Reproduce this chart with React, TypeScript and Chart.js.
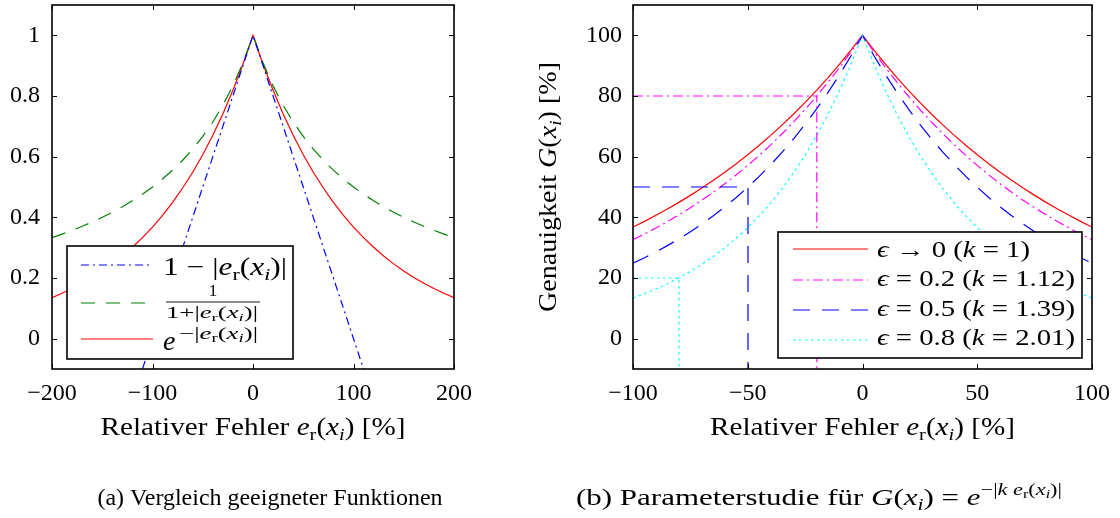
import React, { useEffect, useRef } from "react";
import { Chart, registerables } from "chart.js";

Chart.register(...registerables);

const FONT = '"Liberation Serif", "Times New Roman", serif';

// ---------- Left chart data (a) ----------
const leftX = [-200, -190, -180, -170, -160, -150, -140, -130, -120, -110, -100, -90, -80, -70, -60, -50, -40, -30, -20, -10, 0, 10, 20, 30, 40, 50, 60, 70, 80, 90, 100, 110, 120, 130, 140, 150, 160, 170, 180, 190, 200];
const leftLinear = [-1, -0.9, -0.8, -0.7, -0.6, -0.5, -0.4, -0.3, -0.2, -0.1, 0, 0.1, 0.2, 0.3, 0.4, 0.5, 0.6, 0.7, 0.8, 0.9, 1, 0.9, 0.8, 0.7, 0.6, 0.5, 0.4, 0.3, 0.2, 0.1, 0, -0.1, -0.2, -0.3, -0.4, -0.5, -0.6, -0.7, -0.8, -0.9, -1];
const leftRational = [0.3333, 0.3448, 0.3571, 0.3704, 0.3846, 0.4, 0.4167, 0.4348, 0.4545, 0.4762, 0.5, 0.5263, 0.5556, 0.5882, 0.625, 0.6667, 0.7143, 0.7692, 0.8333, 0.9091, 1, 0.9091, 0.8333, 0.7692, 0.7143, 0.6667, 0.625, 0.5882, 0.5556, 0.5263, 0.5, 0.4762, 0.4545, 0.4348, 0.4167, 0.4, 0.3846, 0.3704, 0.3571, 0.3448, 0.3333];
const leftExp = [0.1353, 0.1496, 0.1653, 0.1827, 0.2019, 0.2231, 0.2466, 0.2725, 0.3012, 0.3329, 0.3679, 0.4066, 0.4493, 0.4966, 0.5488, 0.6065, 0.6703, 0.7408, 0.8187, 0.9048, 1, 0.9048, 0.8187, 0.7408, 0.6703, 0.6065, 0.5488, 0.4966, 0.4493, 0.4066, 0.3679, 0.3329, 0.3012, 0.2725, 0.2466, 0.2231, 0.2019, 0.1827, 0.1653, 0.1496, 0.1353];
const leftXTicks = [-200, -100, 0, 100, 200];
const leftYTicks = [0, 0.2, 0.4, 0.6, 0.8, 1];

// ---------- Right chart data (b) ----------
const rightX = [-100, -95, -90, -85, -80, -75, -70, -65, -60, -55, -50, -45, -40, -35, -30, -25, -20, -15, -10, -5, 0, 5, 10, 15, 20, 25, 30, 35, 40, 45, 50, 55, 60, 65, 70, 75, 80, 85, 90, 95, 100];
const rightK100 = [36.79, 38.67, 40.66, 42.74, 44.93, 47.24, 49.66, 52.2, 54.88, 57.69, 60.65, 63.76, 67.03, 70.47, 74.08, 77.88, 81.87, 86.07, 90.48, 95.12, 100, 95.12, 90.48, 86.07, 81.87, 77.88, 74.08, 70.47, 67.03, 63.76, 60.65, 57.69, 54.88, 52.2, 49.66, 47.24, 44.93, 42.74, 40.66, 38.67, 36.79];
const rightK112 = [32.63, 34.51, 36.49, 38.6, 40.82, 43.17, 45.66, 48.29, 51.07, 54.01, 57.12, 60.41, 63.89, 67.57, 71.46, 75.58, 79.93, 84.54, 89.4, 94.55, 100, 94.55, 89.4, 84.54, 79.93, 75.58, 71.46, 67.57, 63.89, 60.41, 57.12, 54.01, 51.07, 48.29, 45.66, 43.17, 40.82, 38.6, 36.49, 34.51, 32.63];
const rightK139 = [24.91, 26.7, 28.62, 30.68, 32.89, 35.26, 37.79, 40.51, 43.43, 46.56, 49.91, 53.5, 57.35, 61.48, 65.9, 70.65, 75.73, 81.18, 87.02, 93.29, 100, 93.29, 87.02, 81.18, 75.73, 70.65, 65.9, 61.48, 57.35, 53.5, 49.91, 46.56, 43.43, 40.51, 37.79, 35.26, 32.89, 30.68, 28.62, 26.7, 24.91];
const rightK201 = [13.4, 14.82, 16.38, 18.11, 20.03, 22.15, 24.49, 27.08, 29.94, 33.1, 36.6, 40.47, 44.75, 49.49, 54.72, 60.5, 66.9, 73.97, 81.79, 90.44, 100, 90.44, 81.79, 73.97, 66.9, 60.5, 54.72, 49.49, 44.75, 40.47, 36.6, 33.1, 29.94, 27.08, 24.49, 22.15, 20.03, 18.11, 16.38, 14.82, 13.4];
const guideMagentaX = [-100, -19.9, -19.9];
const guideMagentaY = [80, 80, -10];
const guideBlueX = [-100, -49.9, -49.9];
const guideBlueY = [50, 50, -10];
const guideCyanX = [-100, -80, -80];
const guideCyanY = [20, 20, -10];
const rightXTicks = [-100, -50, 0, 50, 100];
const rightYTicks = [0, 20, 40, 60, 80, 100];

// ---------- styles ----------
const C_BLUE = "#0000ff";
const C_GREEN = "#008000";
const C_RED = "#ff0000";
const C_MAGENTA = "#ff00ff";
const C_CYAN = "#00ffff";
const DASH_DASHDOT_L = [8, 4, 2, 4];
const DASH_DASHED_L = [14, 11];
const DASH_DASHDOT_R = [10, 4, 2, 4];
const DASH_DASHED_R = [17, 12];
const DASH_DOT_R = [2.5, 3.5];
const TICK_SIZE = 24;

type Seg = { t: string; it?: boolean; s?: number; dy?: number };

const fontOf = (base: number, g: Seg) =>
  `${g.it ? "italic " : ""}${(base * (g.s ?? 1)).toFixed(2)}px ${FONT}`;

function richWidth(ctx: CanvasRenderingContext2D, segs: Seg[], base: number) {
  let w = 0;
  for (const g of segs) {
    ctx.font = fontOf(base, g);
    w += ctx.measureText(g.t).width;
  }
  return w;
}

function drawRich(
  ctx: CanvasRenderingContext2D,
  segs: Seg[],
  x: number,
  y: number,
  base: number,
  opts: { align?: "left" | "center"; width?: number; sx?: number } = {}
) {
  const w = richWidth(ctx, segs, base);
  const sx = opts.width ? opts.width / w : opts.sx ?? 1;
  const total = w * sx;
  const start = opts.align === "center" ? x - total / 2 : x;
  ctx.save();
  ctx.translate(start, y);
  ctx.scale(sx, 1);
  ctx.textAlign = "left";
  ctx.textBaseline = "alphabetic";
  ctx.fillStyle = "#000";
  let cx = 0;
  for (const g of segs) {
    ctx.font = fontOf(base, g);
    ctx.fillText(g.t, cx, (g.dy ?? 0) * base);
    cx += ctx.measureText(g.t).width;
  }
  ctx.restore();
}

function legendLine(ctx: CanvasRenderingContext2D, x1: number, x2: number, y: number, color: string, dash: number[]) {
  ctx.save();
  ctx.strokeStyle = color;
  ctx.lineWidth = 1.2;
  ctx.setLineDash(dash);
  ctx.beginPath();
  ctx.moveTo(x1, y);
  ctx.lineTo(x2, y);
  ctx.stroke();
  ctx.restore();
}

const SUB = 0.7;
const ER: Seg[] = [
  { t: "e", it: true },
  { t: "r", s: SUB, dy: 0.2 },
  { t: "(" },
  { t: "x", it: true },
  { t: "i", it: true, s: SUB, dy: 0.2 },
];

function frameAndTicks(chart: any) {
  const ctx: CanvasRenderingContext2D = chart.ctx;
  const { left, right, top, bottom } = chart.chartArea;
  const xs = chart.scales.x;
  const ys = chart.scales.y;
  ctx.save();
  ctx.strokeStyle = "#000";
  ctx.lineWidth = 1;
  ctx.setLineDash([]);
  ctx.beginPath();
  for (const t of xs.ticks) {
    const px = Math.round(xs.getPixelForValue(t.value)) + 0.5;
    ctx.moveTo(px, bottom);
    ctx.lineTo(px, bottom - 5);
    ctx.moveTo(px, top);
    ctx.lineTo(px, top + 5);
  }
  for (const t of ys.ticks) {
    const py = Math.round(ys.getPixelForValue(t.value)) + 0.5;
    ctx.moveTo(left, py);
    ctx.lineTo(left + 5, py);
    ctx.moveTo(right, py);
    ctx.lineTo(right - 5, py);
  }
  ctx.stroke();
  ctx.lineWidth = 1.6;
  ctx.strokeRect(left, top, right - left, bottom - top);
  ctx.restore();
}

function legendBox(ctx: CanvasRenderingContext2D, x: number, y: number, w: number, h: number) {
  ctx.save();
  ctx.fillStyle = "#fff";
  ctx.fillRect(x, y, w, h);
  ctx.strokeStyle = "#000";
  ctx.lineWidth = 1.6;
  ctx.setLineDash([]);
  ctx.strokeRect(x, y, w, h);
  ctx.restore();
}

const fmt = (v: number) => String(v).replace("-", "\u2212");

const leftDecor = {
  id: "leftDecor",
  afterDraw(chart: any) {
    const ctx: CanvasRenderingContext2D = chart.ctx;
    frameAndTicks(chart);
    // legend
    legendBox(ctx, 67, 246, 226, 113);
    legendLine(ctx, 81, 153, 265, C_BLUE, DASH_DASHDOT_L);
    legendLine(ctx, 81, 153, 303, C_GREEN, DASH_DASHED_L);
    legendLine(ctx, 81, 153, 339, C_RED, []);
    drawRich(ctx, [{ t: "1 \u2212 |" }, ...ER, { t: ")|" }], 163, 275, 25, { width: 124 });
    // fraction
    drawRich(ctx, [{ t: "1" }], 213, 296, 17, { align: "center" });
    ctx.save();
    ctx.strokeStyle = "#000";
    ctx.lineWidth = 0.9;
    ctx.beginPath();
    ctx.moveTo(166, 302);
    ctx.lineTo(260, 302);
    ctx.stroke();
    ctx.restore();
    drawRich(ctx, [{ t: "1+|" }, ...ER, { t: ")|" }], 166, 318, 16, { width: 92 });
    drawRich(ctx, [{ t: "e", it: true }], 163, 350, 28);
    drawRich(ctx, [{ t: "\u2212|" }, ...ER, { t: ")|" }], 179, 339, 17, { width: 79 });
    // x title
    const { left, right } = chart.chartArea;
    drawRich(ctx, [{ t: "Relativer Fehler " }, ...ER, { t: ") [%]" }], (left + right) / 2, 435, 25, {
      align: "center",
      width: 305,
    });
    // caption
    drawRich(ctx, [{ t: "(a) Vergleich geeigneter Funktionen" }], 270, 505, 24, { align: "center", width: 345 });
  },
};

const rightDecor = {
  id: "rightDecor",
  afterDraw(chart: any) {
    const ctx: CanvasRenderingContext2D = chart.ctx;
    frameAndTicks(chart);
    // legend
    legendBox(ctx, 258, 232, 304, 126);
    legendLine(ctx, 273, 348, 249, C_RED, []);
    legendLine(ctx, 273, 348, 280, C_MAGENTA, DASH_DASHDOT_R);
    legendLine(ctx, 273, 348, 310, C_BLUE, DASH_DASHED_R);
    legendLine(ctx, 273, 348, 340, C_CYAN, DASH_DOT_R);
    const rows: Seg[][] = [
      [{ t: "\u03F5", it: true }, { t: " \u2192 0 (" }, { t: "k", it: true }, { t: " = 1)" }],
      [{ t: "\u03F5", it: true }, { t: " = 0.2 (" }, { t: "k", it: true }, { t: " = 1.12)" }],
      [{ t: "\u03F5", it: true }, { t: " = 0.5 (" }, { t: "k", it: true }, { t: " = 1.39)" }],
      [{ t: "\u03F5", it: true }, { t: " = 0.8 (" }, { t: "k", it: true }, { t: " = 2.01)" }],
    ];
    const sx = 198 / richWidth(ctx, rows[1], 23);
    const bases = [256.5, 286, 315.5, 345];
    rows.forEach((r, i) => drawRich(ctx, r, 357, bases[i], 23, { sx }));
    // x title
    const { left, right, top, bottom } = chart.chartArea;
    drawRich(ctx, [{ t: "Relativer Fehler " }, ...ER, { t: ") [%]" }], (left + right) / 2, 435, 25, {
      align: "center",
      width: 305,
    });
    // y title (rotated)
    ctx.save();
    ctx.translate(36, (top + bottom) / 2);
    ctx.rotate(-Math.PI / 2);
    drawRich(
      ctx,
      [{ t: "Genauigkeit " }, { t: "G", it: true }, { t: "(" }, { t: "x", it: true }, { t: "i", it: true, s: SUB, dy: 0.2 }, { t: ") [%]" }],
      0,
      0,
      25,
      { align: "center", width: 250 }
    );
    ctx.restore();
    // caption
    const sup = -0.42;
    drawRich(
      ctx,
      [
        { t: "(b) Parameterstudie f\u00fcr " },
        { t: "G", it: true },
        { t: "(" },
        { t: "x", it: true },
        { t: "i", it: true, s: SUB, dy: 0.2 },
        { t: ") = " },
        { t: "e", it: true },
        { t: "\u2212|", s: 0.72, dy: sup },
        { t: "k", it: true, s: 0.72, dy: sup },
        { t: " ", s: 0.72, dy: sup },
        { t: "e", it: true, s: 0.72, dy: sup },
        { t: "r", s: 0.52, dy: sup + 0.12 },
        { t: "(", s: 0.72, dy: sup },
        { t: "x", it: true, s: 0.72, dy: sup },
        { t: "i", it: true, s: 0.52, dy: sup + 0.12 },
        { t: ")|", s: 0.72, dy: sup },
      ],
      299,
      505,
      23,
      { align: "center", width: 486 }
    );
  },
};

const pts = (xs: number[], ys: number[]) => xs.map((x, i) => ({ x, y: ys[i] }));

function lineDs(label: string, data: any[], color: string, dash: number[]) {
  return {
    label,
    data,
    borderColor: color,
    backgroundColor: color,
    borderWidth: 1.2,
    borderDash: dash,
    pointRadius: 0,
    pointHoverRadius: 0,
    fill: false,
    tension: 0,
  };
}

function makeScales(
  xMin: number,
  xMax: number,
  yMin: number,
  yMax: number,
  xTicks: number[],
  yTicks: number[],
  yWidth: number,
  yPad: number
) {
  return {
    x: {
      type: "linear",
      min: xMin,
      max: xMax,
      grid: { display: false, drawTicks: false },
      border: { display: false },
      ticks: { color: "#000", font: { family: FONT, size: TICK_SIZE }, padding: 10, callback: (v: number) => fmt(v) },
      afterBuildTicks: (s: any) => {
        s.ticks = xTicks.map((value) => ({ value }));
      },
      afterFit: (s: any) => {
        s.height = 149;
        s.paddingLeft = 0;
        s.paddingRight = 0;
      },
    },
    y: {
      type: "linear",
      min: yMin,
      max: yMax,
      grid: { display: false, drawTicks: false },
      border: { display: false },
      ticks: { color: "#000", font: { family: FONT, size: TICK_SIZE }, padding: yPad, callback: (v: number) => fmt(v) },
      afterBuildTicks: (s: any) => {
        s.ticks = yTicks.map((value) => ({ value }));
      },
      afterFit: (s: any) => {
        s.width = yWidth;
        s.paddingTop = 0;
        s.paddingBottom = 0;
      },
    },
  };
}

export default function App() {
  const leftRef = useRef<HTMLCanvasElement>(null);
  const rightRef = useRef<HTMLCanvasElement>(null);

  useEffect(() => {
    const common = {
      responsive: false,
      animation: false,
      devicePixelRatio: 1,
      events: [],
    };
    const c1 = new Chart(leftRef.current as HTMLCanvasElement, {
      type: "line",
      data: {
        datasets: [
          lineDs("1 − |e_r(x_i)|", pts(leftX, leftLinear), C_BLUE, DASH_DASHDOT_L),
          lineDs("1/(1+|e_r(x_i)|)", pts(leftX, leftRational), C_GREEN, DASH_DASHED_L),
          lineDs("e^(−|e_r(x_i)|)", pts(leftX, leftExp), C_RED, []),
        ],
      },
      options: {
        ...common,
        layout: { padding: { left: 0, top: 5, right: 66, bottom: 0 } },
        plugins: { legend: { display: false }, tooltip: { enabled: false } },
        scales: makeScales(-200, 200, -0.1, 1.1, leftXTicks, leftYTicks, 52, 12),
      } as any,
      plugins: [leftDecor],
    } as any);

    const c2 = new Chart(rightRef.current as HTMLCanvasElement, {
      type: "line",
      data: {
        datasets: [
          lineDs("guide 0.2", pts(guideMagentaX, guideMagentaY), C_MAGENTA, DASH_DASHDOT_R),
          lineDs("guide 0.5", pts(guideBlueX, guideBlueY), C_BLUE, DASH_DASHED_R),
          lineDs("guide 0.8", pts(guideCyanX, guideCyanY), C_CYAN, DASH_DOT_R),
          lineDs("ϵ = 0.8 (k = 2.01)", pts(rightX, rightK201), C_CYAN, DASH_DOT_R),
          lineDs("ϵ = 0.5 (k = 1.39)", pts(rightX, rightK139), C_BLUE, DASH_DASHED_R),
          lineDs("ϵ = 0.2 (k = 1.12)", pts(rightX, rightK112), C_MAGENTA, DASH_DASHDOT_R),
          lineDs("ϵ → 0 (k = 1)", pts(rightX, rightK100), C_RED, []),
        ],
      },
      options: {
        ...common,
        layout: { padding: { left: 0, top: 5, right: 28, bottom: 0 } },
        plugins: { legend: { display: false }, tooltip: { enabled: false } },
        scales: makeScales(-100, 100, -10, 110, rightXTicks, rightYTicks, 113, 11),
      } as any,
      plugins: [rightDecor],
    } as any);

    return () => {
      c1.destroy();
      c2.destroy();
    };
  }, []);

  return (
    <div style={{ position: "absolute", left: 0, top: 0, width: 1120, height: 518, background: "#fff" }}>
      <canvas ref={leftRef} width={520} height={518} style={{ position: "absolute", left: 0, top: 0 }} />
      <canvas ref={rightRef} width={600} height={518} style={{ position: "absolute", left: 520, top: 0 }} />
    </div>
  );
}
